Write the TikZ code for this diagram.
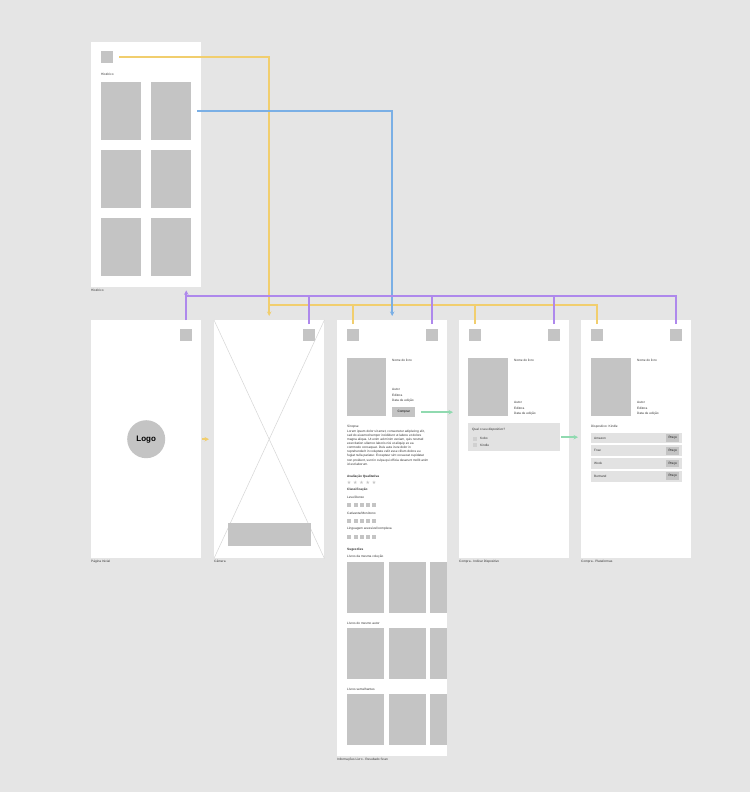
\documentclass[tikz,border=0pt]{standalone}
\usepackage{fontspec}
\setmainfont{Liberation Sans}
\newfontfamily\symfont{DejaVu Sans}
\usetikzlibrary{arrows.meta}
\definecolor{bg}{HTML}{E5E5E5}
\definecolor{phgray}{HTML}{C4C4C4}
\definecolor{boxgray}{HTML}{E2E2E2}
\definecolor{xgray}{HTML}{D6D6D6}
\definecolor{linkyellow}{HTML}{F1CE6E}
\definecolor{linkpurple}{HTML}{AE88EC}
\definecolor{linkblue}{HTML}{7AAFE5}
\definecolor{linkgreen}{HTML}{90DAB0}
\newcommand{\wf}{\fontsize{3.2}{4.1}\selectfont}

\begin{document}
\begin{tikzpicture}[x=1bp, y=-1bp,
    screen/.style={fill=white, inner sep=0, anchor=north west, minimum width=110bp},
    ph/.style={fill=phgray, inner sep=0, anchor=north west},
    icon/.style={ph, minimum size=12bp},
    cover/.style={ph, minimum width=40bp, minimum height=58bp},
    lbl/.style={font=\wf, text=black!80, inner sep=0, anchor=west},
    hd/.style={lbl, font=\wf\bfseries},
    meta/.style={font=\fontsize{3.2}{5.7}\selectfont, text=black!80, inner sep=0, anchor=north west, align=left},
    wire/.style={line width=1.5bp},
    link/.style={wire, -{Stealth[length=4.5bp,width=4.5bp]}}]
  \fill[bg] (0,0) rectangle (750,792);
  \useasboundingbox (0,0) rectangle (750,792);

  \node[screen, minimum height=245bp] (hist) at (91,42) {};
  \node[screen, minimum height=238bp] (inicio) at (91,320) {};
  \node[screen, minimum height=238bp] (camera) at (214,320) {};
  \node[screen, minimum height=436bp] (info) at (337,320) {};
  \node[screen, minimum height=238bp] (compra) at (459,320) {};
  \node[screen, minimum height=238bp] (plataformas) at (581,320) {};

  \node[lbl, anchor=north west] (histName) at ([yshift=-1.5bp]hist.south west) {Histórico};
  \node[lbl, anchor=north west] (inicioName) at ([yshift=-2bp]inicio.south west) {Página Inicial};
  \node[lbl, anchor=north west] (cameraName) at ([yshift=-2bp]camera.south west) {Câmera};
  \node[lbl, anchor=north west] (infoName) at ([yshift=-2bp]info.south west) {Informações Livro - Resultado Scan};
  \node[lbl, anchor=north west] (compraName) at ([yshift=-2bp]compra.south west) {Compra - Indicar Dispositivo};
  \node[lbl, anchor=north west] (plataformasName) at ([yshift=-2bp]plataformas.south west) {Compra - Plataformas};

  \foreach \f in {hist,info,compra,plataformas}
    \node[icon] (\f Back) at ([xshift=10bp,yshift=-9bp]\f.north west) {};
  \foreach \f in {inicio,camera,info,compra,plataformas}
    \node[icon] (\f Hist) at ([xshift=89bp,yshift=-9bp]\f.north west) {};

  \node[lbl] (histTitle) at (101,74) {Histórico};
  \foreach \r in {0,1,2}
    \foreach \c in {0,1}
      \node[cover] (cov\r\c) at (101+50*\c, 82+68*\r) {};

  \node[circle, fill=phgray, minimum size=38bp, inner sep=0, font=\bfseries\fontsize{8}{9}\selectfont] (logo) at (inicio.center) {Logo};

  \draw[xgray, line width=0.5bp] (camera.north west) -- (camera.south east)
    (camera.north east) -- (camera.south west);
  \node[ph, minimum width=83bp, minimum height=23bp] (shutter) at (228,523) {};

  \node[ph, minimum width=39bp, minimum height=58bp] (infoCover) at (347,358) {};
  \node[lbl] (infoTitle) at (392,360) {Nome do livro};
  \node[meta] (infoMeta) at (392,388) {Autor\\Editora\\Data de edição};
  \node[ph, minimum width=23bp, minimum height=10bp, font=\wf] (comprarBtn) at (392,407) {Comprar};
  \node[lbl] (sinopseTitle) at (347,427) {Sinopse};
  \node[meta, font=\fontsize{3.2}{4.15}\selectfont] (sinopse) at (347,429.6) {Lorem ipsum dolor sit amet, consectetur adipiscing elit,\\
    sed do eiusmod tempor incididunt ut labore et dolore\\
    magna aliqua. Ut enim ad minim veniam, quis nostrud\\
    exercitation ullamco laboris nisi ut aliquip ex ea\\
    commodo consequat. Duis aute irure dolor in\\
    reprehenderit in voluptate velit esse cillum dolore eu\\
    fugiat nulla pariatur. Excepteur sint occaecat cupidatat\\
    non proident, sunt in culpa qui officia deserunt mollit anim\\
    id est laborum.};
  \node[hd] (avaliacao) at (347,477) {Avaliação Qualitativa};
  \foreach \k in {0,...,4}
    \node[inner sep=0, text=phgray, font=\symfont\fontsize{5}{5}\selectfont] (star\k) at (349+6.3*\k,482.5) {★};
  \node[hd] (classificacao) at (347,489.5) {Classificação};
  \foreach \lab [count=\i from 0] in {Leve/Denso, Cativante/Monótono, Linguagem acessível/complexa} {
    \node[lbl] (escala\i) at (347,497+16*\i) {\lab};
    \foreach \k in {0,...,4}
      \node[ph, minimum size=4bp] (escala\i\k) at (347+6.3*\k,503+16*\i) {};
  }
  \node[hd] (sugestoes) at (347,550) {Sugestões};
  \foreach \lab [count=\i from 0] in {Livros da mesma coleção, Livros do mesmo autor, Livros semelhantes} {
    \node[lbl] (sugestao\i) at (347,557+66*\i) {\lab};
    \foreach \k/\w in {0/37,1/37,2/17}
      \node[ph, minimum width=\w bp, minimum height=51bp] (livro\i\k) at (347+41.5*\k,562+66*\i) {};
  }

  \node[cover] (compraCover) at (468,358) {};
  \node[lbl] (compraTitle) at (514,360) {Nome do livro};
  \node[meta] (compraMeta) at (514,401) {Autor\\Editora\\Data de edição};
  \node[fill=boxgray, inner sep=0, anchor=north west, minimum width=92bp, minimum height=28bp] (dispBox) at (468,423) {};
  \node[lbl] (pergunta) at (472,430) {Qual o seu dispositivo?};
  \foreach \lab [count=\i from 0] in {Kobo, Kindle} {
    \node[fill=phgray!80, inner sep=0, minimum size=4bp] (check\i) at (474.5,438.5+6.5*\i) {};
    \node[lbl] (opcao\i) at (480,438.5+6.5*\i) {\lab};
  }

  \node[cover] (plataformasCover) at (591,358) {};
  \node[lbl] (plataformasTitle) at (637,360) {Nome do livro};
  \node[meta] (plataformasMeta) at (637,401) {Autor\\Editora\\Data de edição};
  \node[lbl] (dispositivo) at (591,427) {Dispositivo: Kindle};
  \foreach \lab [count=\i from 0] in {Amazon, Fnac, Wook, Bertrand} {
    \node[fill=boxgray, inner sep=0, anchor=north west, minimum width=91bp, minimum height=10.7bp] (loja\i) at (591,432.5+12.7*\i) {};
    \node[lbl] (lojaNome\i) at ([xshift=3bp]loja\i.west) {\lab};
    \node[ph, anchor=east, minimum width=13bp, minimum height=7.5bp, font=\wf] (preco\i) at ([xshift=-3bp]loja\i.east) {Preço};
  }

  \coordinate (backJoin) at (269,305);
  \coordinate (histJoin) at (186,296);
  \draw[link, linkyellow, shorten <=6bp, shorten >=4bp] (histBack.east) -| (camera.north);
  \foreach \f in {info,compra,plataformas}
    \draw[wire, linkyellow, shorten <=5bp] (\f Back.north) |- (backJoin);
  \draw[link, linkyellow, shorten <=1bp, shorten >=5bp] (inicio.east) -- (camera.west);
  \draw[link, linkblue, shorten <=6bp, shorten >=4bp] (cov01.east) -| (info.north);
  \draw[link, linkpurple, shorten <=9bp, shorten >=3bp] (inicioHist.north) -- (inicioHist.north |- hist.south);
  \foreach \f in {camera,info,compra,plataformas}
    \draw[wire, linkpurple, shorten <=5bp] (\f Hist.north) |- (histJoin);
  \draw[link, linkgreen, shorten <=6bp, shorten >=6bp] (comprarBtn.east) -- (comprarBtn.east -| compra.west);
  \draw[link, linkgreen, shorten <=1bp, shorten >=3bp] (dispBox.east) -- (dispBox.east -| plataformas.west);
\end{tikzpicture}
\end{document}
